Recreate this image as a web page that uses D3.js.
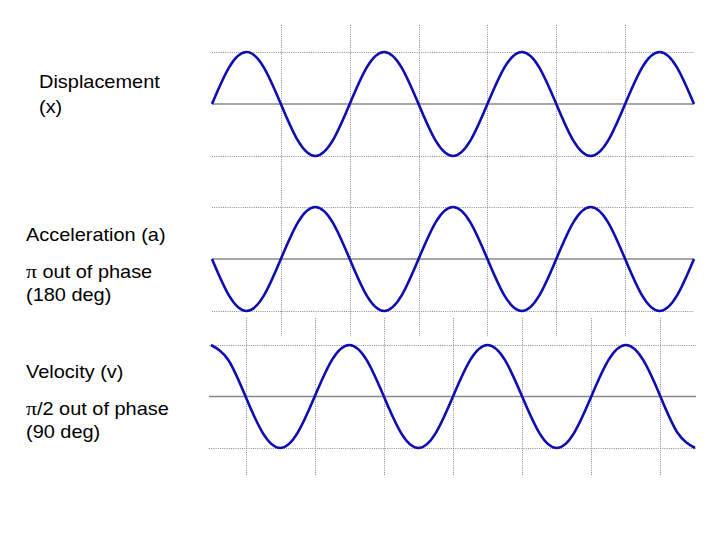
<!DOCTYPE html>
<html>
<head>
<meta charset="utf-8">
<script src="https://cdn.jsdelivr.net/npm/d3@7"></script>
<style>
	body { margin: 0; background: #fff; }
	text { font-family: "Liberation Sans", Arial, Helvetica, sans-serif; fill: #000; }
	tspan.sym { font-family: "Liberation Serif", "Times New Roman", serif; }
</style>
</head>
<body>
<div id="chart"></div>
<script>
var WIDTH = 728;
var HEIGHT = 546;

// time in cycles, one sample every 1/8 cycle
var cycles = [0, 0.125, 0.25, 0.375, 0.5, 0.625, 0.75, 0.875,
	1, 1.125, 1.25, 1.375, 1.5, 1.625, 1.75, 1.875,
	2, 2.125, 2.25, 2.375, 2.5, 2.625, 2.75, 2.875,
	3, 3.125, 3.25, 3.375, 3.5];

// relative amplitude
var displacement = [0, 0.71, 1, 0.71, 0, -0.71, -1, -0.71,
	0, 0.71, 1, 0.71, 0, -0.71, -1, -0.71,
	0, 0.71, 1, 0.71, 0, -0.71, -1, -0.71,
	0, 0.71, 1, 0.71, 0];

var acceleration = [0, -0.71, -1, -0.71, 0, 0.71, 1, 0.71,
	0, -0.71, -1, -0.71, 0, 0.71, 1, 0.71,
	0, -0.71, -1, -0.71, 0, 0.71, 1, 0.71,
	0, -0.71, -1, -0.71, 0];

var velocity = [1, 0.71, 0, -0.71, -1, -0.71, 0, 0.71,
	1, 0.71, 0, -0.71, -1, -0.71, 0, 0.71,
	1, 0.71, 0, -0.71, -1, -0.71, 0, 0.71,
	1, 0.71, 0, -0.71, -1];

// grid ticks (in cycles)
var halfCycleTicks = [0.5, 1, 1.5, 2, 2.5, 3];
var quarterCycleTicks = [0.25, 0.75, 1.25, 1.75, 2.25, 2.75, 3.25];

// each label line: [symbol part, text part]
var labels = {
	displacement: [["", "Displacement"], ["", "(x)"]],
	acceleration: [["", "Acceleration (a)"], ["\u03c0", " out of phase"], ["", "(180 deg)"]],
	velocity: [["", "Velocity (v)"], ["\u03c0", "/2 out of phase"], ["", "(90 deg)"]]
};

var WAVE_COLOR = "#0d0db2";
var AXIS_COLOR = "#888888";
var GRID_COLOR = "#8c8c8c";

var svg = d3.select("#chart")
	.append("svg")
	.attr("width", WIDTH)
	.attr("height", HEIGHT);

var xTop = d3.scaleLinear().domain([0, 3.5]).range([212, 694]);
var xBottom = d3.scaleLinear().domain([0, 3.5]).range([211, 695]);

var panels = [
	{ values: displacement, x: xTop, y: d3.scaleLinear().domain([-1, 1]).range([156, 52]), x0: 212, x1: 694 },
	{ values: acceleration, x: xTop, y: d3.scaleLinear().domain([-1, 1]).range([311, 207]), x0: 212, x1: 694 },
	{ values: velocity, x: xBottom, y: d3.scaleLinear().domain([-1, 1]).range([448, 345]), x0: 209, x1: 696 }
];

// vertical grid, shared by the two upper panels
svg.append("g").selectAll("line")
	.data(halfCycleTicks)
	.join("line")
	.attr("x1", d => Math.round(xTop(d)) + 0.5)
	.attr("x2", d => Math.round(xTop(d)) + 0.5)
	.attr("y1", 25)
	.attr("y2", 337)
	.attr("stroke", GRID_COLOR)
	.attr("stroke-width", 1)
	.attr("stroke-dasharray", "1,1.2");

// vertical grid of the velocity panel
svg.append("g").selectAll("line")
	.data(quarterCycleTicks)
	.join("line")
	.attr("x1", d => Math.round(xBottom(d)) + 0.5)
	.attr("x2", d => Math.round(xBottom(d)) + 0.5)
	.attr("y1", 318)
	.attr("y2", 475)
	.attr("stroke", GRID_COLOR)
	.attr("stroke-width", 1)
	.attr("stroke-dasharray", "1,1.2");

panels.forEach(function(p) {
	var g = svg.append("g");

	// dotted amplitude lines
	g.selectAll(".amp")
		.data([-1, 1])
		.join("line")
		.attr("class", "amp")
		.attr("x1", p.x0)
		.attr("x2", p.x1)
		.attr("y1", d => Math.round(p.y(d)) + 0.5)
		.attr("y2", d => Math.round(p.y(d)) + 0.5)
		.attr("stroke", GRID_COLOR)
		.attr("stroke-width", 1)
		.attr("stroke-dasharray", "1,1.2");

	// zero line
	g.append("line")
		.attr("x1", p.x0)
		.attr("x2", p.x1)
		.attr("y1", p.y(0))
		.attr("y2", p.y(0))
		.attr("stroke", AXIS_COLOR)
		.attr("stroke-width", 1.5);

	var line = d3.line()
		.x((d, i) => p.x(cycles[i]))
		.y(d => p.y(d))
		.curve(d3.curveNatural);

	g.append("path")
		.datum(p.values)
		.attr("d", line)
		.attr("fill", "none")
		.attr("stroke", WAVE_COLOR)
		.attr("stroke-width", 2.6)
		.attr("stroke-linejoin", "round");
});

// side labels
function drawLabel(lines, x, baselines) {
	lines.forEach(function(parts, i) {
		var t = svg.append("text")
			.attr("transform", `translate(${x},${baselines[i]}) scale(1.14,1)`)
			.style("font-size", "17.5px");
		if (parts[0]) t.append("tspan").attr("class", "sym").style("font-size", "19px").text(parts[0]);
		t.append("tspan").text(parts[1]);
	});
}

drawLabel(labels.displacement, 39, [88, 113]);
drawLabel(labels.acceleration, 26, [241, 278, 301]);
drawLabel(labels.velocity, 26, [378, 415, 438]);
</script>
</body>
</html>
